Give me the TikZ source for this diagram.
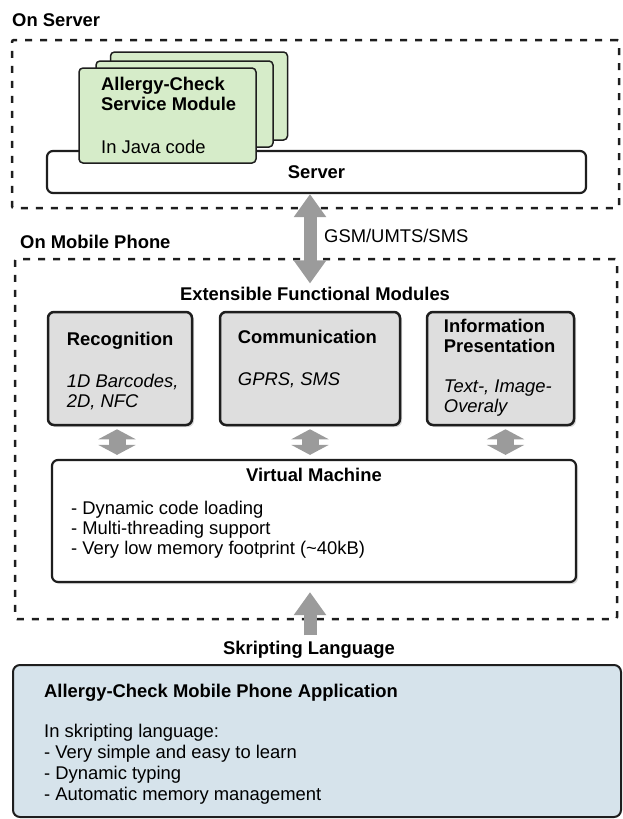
\documentclass[tikz,border=0pt]{standalone}
\usepackage{fontspec}
\setmainfont{Liberation Sans}
\usepackage{xcolor}
\usetikzlibrary{arrows.meta, shadows, backgrounds}

\definecolor{cardgreen}{RGB}{214,236,201}
\definecolor{modgray}{RGB}{222,222,222}
\definecolor{appblue}{RGB}{214,227,235}
\definecolor{arrowgray}{RGB}{155,155,155}
\definecolor{linedark}{RGB}{30,30,30}

\tikzset{
  bigtip/.tip={Triangle[width=31pt,length=23pt]},
  smalltip/.tip={Triangle[width=37pt,length=10pt]}
}

\begin{document}
\begin{tikzpicture}[x=1pt, y=-1pt,
    every node/.style={inner sep=0pt},
    body/.style={font=\fontsize{18.4}{20}\selectfont},
    head/.style={font=\fontsize{18.4}{20}\selectfont\bfseries},
    zone/.style={draw=linedark, line width=2.5pt, dash pattern=on 7pt off 8pt, rounded corners=2pt},
    card/.style={draw=linedark, line width=1.5pt, fill=cardgreen, rounded corners=4pt, minimum width=177pt},
    modbox/.style={draw=linedark, line width=2.5pt, fill=modgray, rounded corners=6pt, minimum height=113pt,
                   drop shadow={shadow xshift=2pt, shadow yshift=-2pt, opacity=0.3}},
    whitebox/.style={draw=linedark, line width=2.2pt, fill=white, rounded corners=6pt}]

  \useasboundingbox (0,0) rectangle (622,819);

  % dashed areas
  \node[zone, minimum width=607pt, minimum height=168pt] (srvzone) at (315.5,124) {};
  \node[zone, minimum width=602pt, minimum height=360pt] (mobzone) at (316,439) {};
  \node[head, anchor=base west] (onsrv) at (12,27) {On Server};
  \node[head, anchor=base west] (onmob) at (20,248) {On Mobile Phone};

  % server side
  \node[whitebox, head, minimum width=539pt, minimum height=42pt] (srv) at (316.5,172) {Server};
  \node[card, minimum height=88pt] (card3) at (199,96) {};
  \node[card, minimum height=86pt] (card2) at (184.5,104) {};
  \node[card, minimum height=95pt] (card1) at (167.5,115.5) {};
  % multi-line texts sit on the baseline of their last line
  \node[body, anchor=base west, align=left] (cardtxt) at (101,153)
       {\textbf{Allergy-Check}\\\textbf{Service Module}\\[23pt]In Java code};
  \node[body, anchor=base west] (gsm) at (324,242) {GSM/UMTS/SMS};

  % modules on the phone
  \node[head, anchor=base] (ext) at (315,300) {Extensible Functional Modules};
  \begin{scope}[every node/.style={modbox}]
    \node[minimum width=144pt] (rec) at (120,368.5) {};
    \node[minimum width=180pt] (comm) at (310,368.5) {};
    \node[minimum width=147pt] (info) at (500.5,368.5) {};
  \end{scope}
  \node[body, anchor=base west, align=left] (rectxt) at ([xshift=20pt, yshift=-97pt]rec.north west)
       {\textbf{Recognition}\\[22pt]\textit{1D Barcodes,}\\\textit{2D, NFC}};
  \node[body, anchor=base west, align=left] (commtxt) at ([xshift=19pt, yshift=-75pt]comm.north west)
       {\textbf{Communication}\\[22pt]\textit{GPRS, SMS}};
  \node[body, anchor=base west, align=left] (infotxt) at ([xshift=18pt, yshift=-102pt]info.north west)
       {\textbf{Information}\\\textbf{Presentation}\\[20pt]\textit{Text-, Image-}\\\textit{Overaly}};

  % virtual machine
  \node[whitebox, drop shadow={shadow xshift=2pt, shadow yshift=-2pt, opacity=0.3},
        minimum width=524pt, minimum height=122pt] (vm) at (314,521) {};
  \node[head, anchor=base] (vmtitle) at ([yshift=-23pt]vm.north) {Virtual Machine};
  \node[body, anchor=base west, align=left] (vmtxt) at ([xshift=20pt, yshift=-96pt]vm.north west)
       {- Dynamic code loading\\- Multi-threading support\\- Very low memory footprint (\textasciitilde 40kB)};

  % application
  \node[head, anchor=base] (lang) at (309,654) {Skripting Language};
  \node[draw=linedark, line width=2pt, fill=appblue, rounded corners=7pt,
        minimum width=608pt, minimum height=152pt] (app) at (317,741) {};
  \node[head, anchor=base west] (apptitle) at ([xshift=32pt, yshift=-33pt]app.north west)
       {Allergy-Check Mobile Phone Application};
  \node[body, anchor=base west, align=left, font=\fontsize{18.4}{20.7}\selectfont] (apptxt)
       at ([xshift=32pt, yshift=-136pt]app.north west)
       {In skripting language:\\- Very simple and easy to learn\\- Dynamic typing\\- Automatic memory management};

  % fat arrows
  \begin{scope}[every edge/.style={draw=arrowgray, line cap=butt}]
    \path[bigtip-bigtip, line width=13pt, shorten >=3pt] (srv.south -| comm.north) edge (ext.north -| comm.north);
    \path[smalltip-smalltip, line width=17pt, shorten <=3pt, shorten >=4pt]
         ([xshift=-3pt]rec.south) edge ([xshift=-3pt]rec.south |- vm.north)
         (comm.south) edge (comm.south |- vm.north)
         ([xshift=5pt]info.south) edge ([xshift=5pt]info.south |- vm.north);
    \path[-bigtip, line width=13pt, shorten <=5pt, shorten >=9pt] ([xshift=1pt]lang.north) edge ([xshift=1pt]lang.north |- vm.south);
  \end{scope}
\end{tikzpicture}
\end{document}
